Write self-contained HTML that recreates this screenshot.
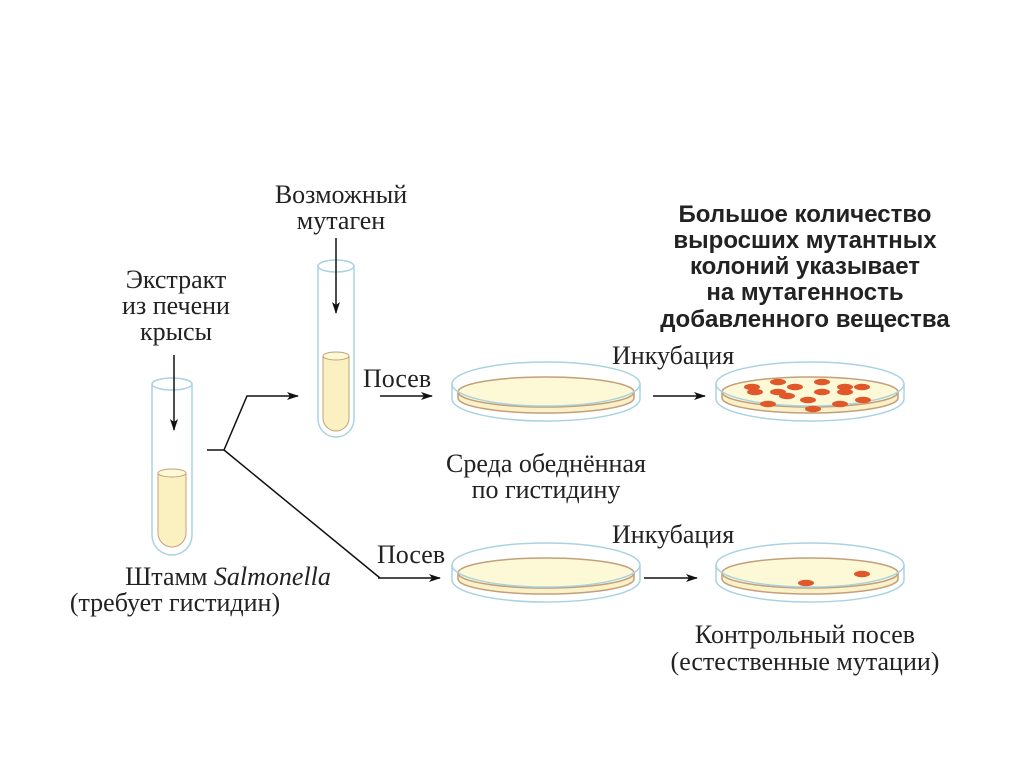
<!DOCTYPE html>
<html><head><meta charset="utf-8"><style>
html,body{margin:0;padding:0;background:#fff;}
svg{display:block;}
text{font-family:"Liberation Serif",serif;font-size:26px;fill:#222;}
.b{font-family:"Liberation Sans",sans-serif;font-weight:bold;font-size:24px;}
</style></head><body>
<svg width="1024" height="767" viewBox="0 0 1024 767" xmlns="http://www.w3.org/2000/svg">
<defs>
<marker id="ar" markerWidth="12" markerHeight="8" refX="11" refY="4" orient="auto" markerUnits="userSpaceOnUse">
<path d="M0,0 L12,4 L0,8 L3,4 Z" fill="#111"/></marker>
<g id="dish">
<path d="M-94,0 L-94,15 A94,22 0 0 0 94,15 L94,0" fill="#fff" stroke="#a9d3e0" stroke-width="1.5"/>
<path d="M-88,8 L-88,14 A88,15 0 0 0 88,14 L88,8" fill="#fbf1c8" stroke="#c2a07a" stroke-width="1.5"/>
<ellipse cx="0" cy="8" rx="88" ry="15" fill="#fdf8d6" stroke="#c2a07a" stroke-width="1.5"/>
<ellipse cx="0" cy="0" rx="94" ry="22" fill="none" stroke="#a9d3e0" stroke-width="1.5"/>
</g>
<g id="col"><ellipse rx="8" ry="3.2" fill="#e0582a"/></g>
</defs>

<path d="M152,384 L152,535 A20,20 0 0 0 192,535 L192,384" fill="#fff" stroke="#a9d3e0" stroke-width="1.5"/>
<path d="M158,473 L158,533 A14,14 0 0 0 186,533 L186,473 Z" fill="#fbf0c0" stroke="#c2a07a" stroke-width="1"/>
<ellipse cx="172" cy="473" rx="14" ry="4" fill="#fdf8d6" stroke="#c2a07a" stroke-width="1"/>
<ellipse cx="172" cy="384" rx="20" ry="6" fill="none" stroke="#a9d3e0" stroke-width="1.5"/>
<line x1="174" y1="355" x2="174" y2="430" stroke="#111" stroke-width="1.5" marker-end="url(#ar)"/>

<path d="M318,266 L318,419 A18,18 0 0 0 354,419 L354,266" fill="#fff" stroke="#a9d3e0" stroke-width="1.5"/>
<path d="M323,356 L323,418 A13,13 0 0 0 349,418 L349,356 Z" fill="#fbf0c0" stroke="#c2a07a" stroke-width="1"/>
<ellipse cx="336" cy="356" rx="13" ry="4" fill="#fdf8d6" stroke="#c2a07a" stroke-width="1"/>
<ellipse cx="336" cy="266" rx="18" ry="6" fill="none" stroke="#a9d3e0" stroke-width="1.5"/>
<line x1="336" y1="238" x2="336" y2="313" stroke="#111" stroke-width="1.5" marker-end="url(#ar)"/>

<polyline points="207,450 224,450 247,396 298,396" fill="none" stroke="#111" stroke-width="1.5" marker-end="url(#ar)"/>
<polyline points="224,450 380,578" fill="none" stroke="#111" stroke-width="1.5"/>
<line x1="378" y1="578" x2="440" y2="578" stroke="#111" stroke-width="1.5" marker-end="url(#ar)"/>
<line x1="380" y1="396" x2="432" y2="396" stroke="#111" stroke-width="1.5" marker-end="url(#ar)"/>
<line x1="653" y1="396" x2="705" y2="396" stroke="#111" stroke-width="1.5" marker-end="url(#ar)"/>
<line x1="644" y1="578" x2="697" y2="578" stroke="#111" stroke-width="1.5" marker-end="url(#ar)"/>

<use href="#dish" x="546" y="384"/>
<use href="#dish" x="810" y="384"/>
<use href="#dish" x="546" y="565"/>
<use href="#dish" x="810" y="565"/>

<use href="#col" x="752" y="387"/><use href="#col" x="778" y="382"/><use href="#col" x="795" y="387"/>
<use href="#col" x="822" y="382"/><use href="#col" x="845" y="387"/><use href="#col" x="862" y="387"/>
<use href="#col" x="755" y="392"/><use href="#col" x="778" y="392"/><use href="#col" x="787" y="396"/>
<use href="#col" x="822" y="392"/><use href="#col" x="845" y="392"/><use href="#col" x="808" y="400"/>
<use href="#col" x="768" y="404"/><use href="#col" x="840" y="404"/><use href="#col" x="863" y="400"/>
<use href="#col" x="813" y="409"/>
<use href="#col" x="806" y="583"/><use href="#col" x="862" y="574"/>

<text x="341" y="203" text-anchor="middle">Возможный</text>
<text x="341" y="229" text-anchor="middle">мутаген</text>
<text x="176" y="288" text-anchor="middle">Экстракт</text>
<text x="176" y="314" text-anchor="middle">из печени</text>
<text x="176" y="340" text-anchor="middle">крысы</text>
<text x="363" y="387">Посев</text>
<text x="377" y="563">Посев</text>
<text x="612" y="364">Инкубация</text>
<text x="612" y="543">Инкубация</text>
<text x="546" y="472" text-anchor="middle">Среда обеднённая</text>
<text x="546" y="498" text-anchor="middle">по гистидину</text>
<text x="228" y="585" text-anchor="middle">Штамм <tspan font-style="italic">Salmonella</tspan></text>
<text x="175" y="611" text-anchor="middle">(требует гистидин)</text>
<text x="805" y="643" text-anchor="middle">Контрольный посев</text>
<text x="805" y="670" text-anchor="middle">(естественные мутации)</text>
<text class="b" x="805" y="222" text-anchor="middle">Большое количество</text>
<text class="b" x="805" y="248" text-anchor="middle">выросших мутантных</text>
<text class="b" x="805" y="274" text-anchor="middle">колоний указывает</text>
<text class="b" x="805" y="300" text-anchor="middle">на мутагенность</text>
<text class="b" x="805" y="327" text-anchor="middle">добавленного вещества</text>
</svg>
</body></html>
